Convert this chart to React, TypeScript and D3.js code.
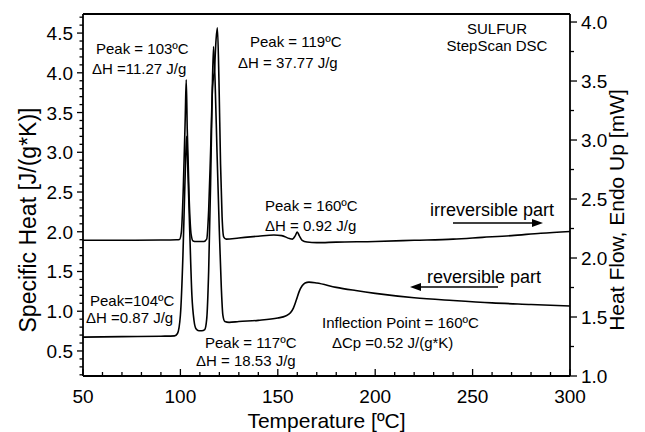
import * as d3 from "d3"

// irreversible part (heat flow, right axis, mW)
const irrTemp = [50, 70, 90, 98, 99.5, 100.5, 101.5, 102.5, 103, 103.5, 104.5, 105.5, 106.5, 108, 112, 113.5, 114.5, 115.5, 116.5, 117.5, 118.3, 119, 119.8, 120.6, 121.4, 122.2, 123.5, 130, 140, 148, 152, 156, 157.5, 159, 160, 161, 162.5, 165, 170, 180, 200, 220, 240, 255, 270, 285, 300]
const irrFlow = [2.15, 2.15, 2.152, 2.155, 2.157, 2.22, 2.6, 3.2, 3.51, 3.1, 2.5, 2.2, 2.145, 2.14, 2.14, 2.16, 2.4, 2.9, 3.45, 3.6, 3.85, 3.95, 3.5, 2.8, 2.35, 2.18, 2.16, 2.17, 2.185, 2.195, 2.19, 2.165, 2.16, 2.19, 2.22, 2.19, 2.15, 2.135, 2.13, 2.135, 2.14, 2.15, 2.16, 2.175, 2.19, 2.21, 2.225]

// reversible part (specific heat, left axis, J/(g*K))
const revTemp = [50, 70, 90, 97, 98.5, 100, 101.3, 102.2, 102.8, 103.2, 103.8, 104.8, 105.9, 107, 108, 109.5, 111, 112.5, 113.5, 114.5, 115.5, 116.3, 117, 117.8, 118.8, 120, 121, 121.8, 122.8, 125, 130, 140, 150, 154, 156.5, 158, 159.5, 161, 162.5, 164, 166, 170, 180, 190, 200, 220, 240, 260, 280, 300]
const revCp = [0.674, 0.68, 0.686, 0.69, 0.72, 0.95, 1.7, 2.5, 3.0, 3.2, 2.8, 2.0, 1.2, 0.88, 0.78, 0.755, 0.755, 0.77, 0.9, 1.5, 2.6, 3.7, 4.33, 3.9, 3.0, 2.0, 1.3, 0.95, 0.87, 0.86, 0.87, 0.885, 0.915, 0.94, 0.98, 1.04, 1.14, 1.25, 1.32, 1.355, 1.366, 1.355, 1.3, 1.26, 1.225, 1.17, 1.135, 1.105, 1.085, 1.065]

const xTicks = [50, 100, 150, 200, 250, 300]
const leftTicks = [0.5, 1.0, 1.5, 2.0, 2.5, 3.0, 3.5, 4.0, 4.5]
const rightTicks = [1.0, 1.5, 2.0, 2.5, 3.0, 3.5, 4.0]

const font = "'Liberation Sans', Arial, sans-serif"

export default function App() {
    const left = 83, right = 570, top = 14, bottom = 376
    const x = d3.scaleLinear().domain([50, 300]).range([left, right])
    const yL = d3.scaleLinear().domain([0.185, 4.74]).range([bottom, top])
    const yR = d3.scaleLinear().domain([1.0, 4.068]).range([bottom, top])

    const irrLine = d3.line<number>()
        .x((_, i) => x(irrTemp[i]))
        .y((d) => yR(d))
        .curve(d3.curveMonotoneX)
    const revLine = d3.line<number>()
        .x((_, i) => x(revTemp[i]))
        .y((d) => yL(d))
        .curve(d3.curveMonotoneX)

    const xMinor = d3.range(60, 300, 10).filter((t) => t % 50 !== 0)
    const lMinor = d3.range(2, 48).map((v) => v / 10).filter((v) => Math.round(v * 10) % 5 !== 0)
    const rMinor = d3.range(1.25, 4.0, 0.5)

    return (
        <svg width={645} height={432} style={{ position: "absolute", left: 0, top: 0, background: "#fff" }} fontFamily={font}>
            <rect width={645} height={432} fill="#fff" />
            {/* frame */}
            <g stroke="#000" strokeWidth={1.8} fill="none">
                <line x1={left} x2={right} y1={top} y2={top} />
                <line x1={left} x2={right} y1={bottom} y2={bottom} />
                <line x1={left} x2={left} y1={top} y2={bottom} />
                <line x1={right} x2={right} y1={top} y2={bottom} />
            </g>
            {/* ticks */}
            <g stroke="#000" strokeWidth={1.3}>
                {xTicks.map((t) => <line key={t} x1={x(t)} x2={x(t)} y1={bottom} y2={bottom - 7} />)}
                {xMinor.map((t) => <line key={t} x1={x(t)} x2={x(t)} y1={bottom} y2={bottom - 4} />)}
                {leftTicks.map((t) => <line key={t} x1={left} x2={left - 6} y1={yL(t)} y2={yL(t)} />)}
                {lMinor.map((t) => <line key={t} x1={left} x2={left - 3.5} y1={yL(t)} y2={yL(t)} />)}
                {rightTicks.map((t) => <line key={t} x1={right} x2={right + 7} y1={yR(t)} y2={yR(t)} />)}
                {rMinor.map((t) => <line key={t} x1={right} x2={right + 4} y1={yR(t)} y2={yR(t)} />)}
            </g>
            <g fontSize={19} fill="#000">
                {xTicks.map((t) => (
                    <text key={t} x={x(t)} y={bottom + 27} textAnchor="middle">{t}</text>
                ))}
                {leftTicks.map((t) => (
                    <text key={t} x={left - 10} y={yL(t) + 7} textAnchor="end">{t.toFixed(1)}</text>
                ))}
                {rightTicks.map((t) => (
                    <text key={t} x={right + 11} y={yR(t) + 7}>{t.toFixed(1)}</text>
                ))}
            </g>
            <text x={(left + right) / 2} y={428} textAnchor="middle" fontSize={21}>Temperature [ºC]</text>
            <text transform="translate(36,220) rotate(-90)" textAnchor="middle" fontSize={23}>Specific Heat [J/(g*K)]</text>
            <text transform={`translate(624,${(top + bottom) / 2 + 15}) rotate(-90)`} textAnchor="middle" fontSize={21}>Heat Flow, Endo Up [mW]</text>

            {/* curves */}
            <path d={irrLine(irrFlow) ?? ""} fill="none" stroke="#000" strokeWidth={1.6} strokeLinejoin="round" />
            <path d={revLine(revCp) ?? ""} fill="none" stroke="#000" strokeWidth={1.6} strokeLinejoin="round" />

            {/* annotations */}
            <g fontSize={15} fill="#000">
                <text x={96} y={54}>Peak = 103ºC</text>
                <text x={92} y={74}>ΔH =11.27 J/g</text>
                <text x={250} y={47}>Peak = 119ºC</text>
                <text x={238} y={68}>ΔH = 37.77 J/g</text>
                <text x={265} y={211}>Peak = 160ºC</text>
                <text x={265} y={231}>ΔH = 0.92 J/g</text>
                <text x={90} y={306}>Peak=104ºC</text>
                <text x={86} y={323}>ΔH =0.87 J/g</text>
                <text x={205} y={348}>Peak = 117ºC</text>
                <text x={196} y={366}>ΔH = 18.53 J/g</text>
                <text x={322} y={328}>Inflection Point = 160ºC</text>
                <text x={332} y={348}>ΔCp =0.52 J/(g*K)</text>
                <text x={497} y={34} textAnchor="middle">SULFUR</text>
                <text x={497} y={51} textAnchor="middle">StepScan DSC</text>
            </g>
            <g fontSize={18} fill="#000">
                <text x={430} y={216}>irreversible part</text>
                <text x={427} y={283}>reversible part</text>
            </g>
            {/* arrows */}
            <g stroke="#000" strokeWidth={1.5} fill="#000">
                <line x1={453} x2={535} y1={223} y2={223} />
                <path d="M543,223 L532,219 L532,227 Z" stroke="none" />
                <line x1={418} x2={498} y1={287} y2={287} />
                <path d="M410,287 L421,283 L421,291 Z" stroke="none" />
            </g>
        </svg>
    )
}
